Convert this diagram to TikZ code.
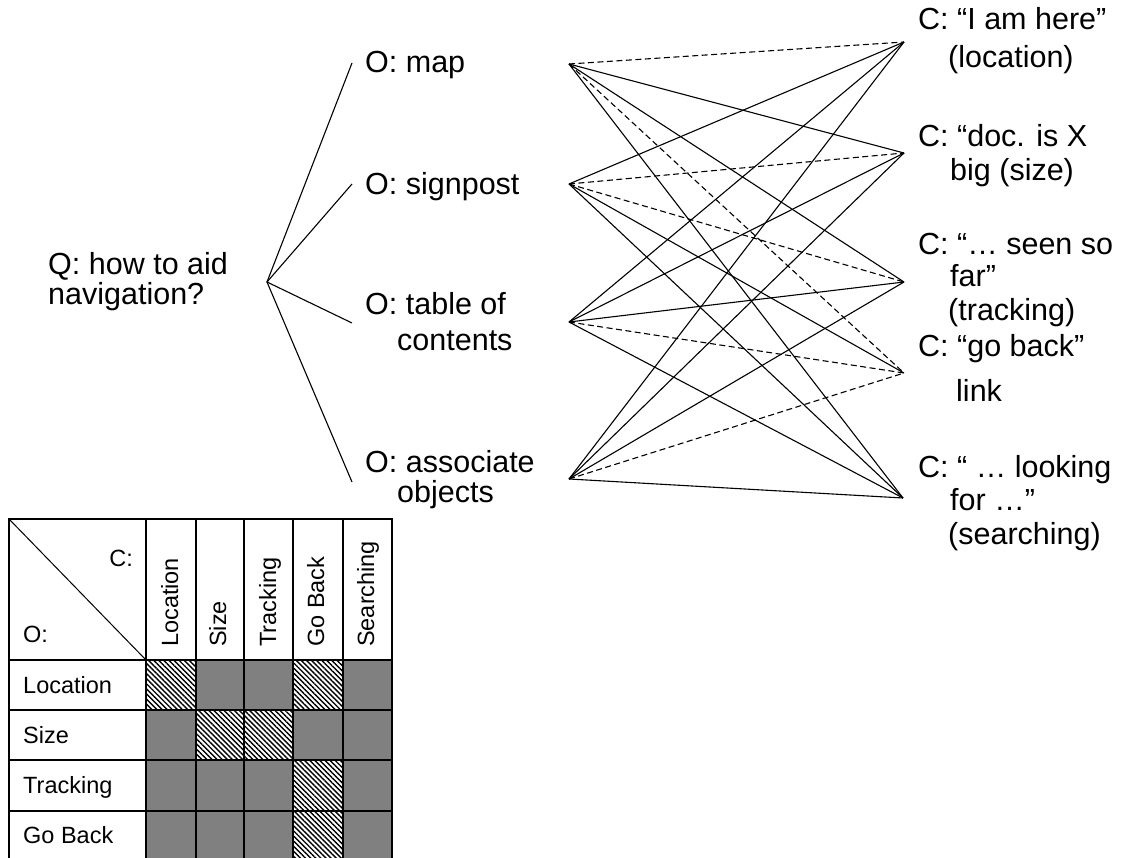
\documentclass[tikz,border=0pt]{standalone}
\usepackage{fontspec}
\setmainfont{Liberation Sans}
\usetikzlibrary{patterns.meta}
\begin{document}
\begin{tikzpicture}[x=1pt,y=-1pt,
  big/.style={font=\fontsize{30.5}{33}\selectfont, inner sep=0pt, anchor=base west},
  small/.style={font=\fontsize{23.5}{26}\selectfont, inner sep=0pt, anchor=base west},
  link/.style={line width=1.1pt, black},
  dlink/.style={line width=1.1pt, black, dash pattern=on 6pt off 3.5pt},
  hatchcell/.style={fill=white, postaction={pattern={Lines[angle=-45,distance=3.6pt,line width=1.4pt]}}},
  grid/.style={line width=1.3pt, black}]
\useasboundingbox (0,0) rectangle (1125,858);
\clip (0,0) rectangle (1125,858);

% ---- texts: question and options
\node[big] (q1) at (48,275) {Q: how to aid};
\node[big] (q2) at (48,305) {navigation?};
\node[big] (o1) at (365,73) {O: map};
\node[big] (o2) at (365,195) {O: signpost};
\node[big] (o3a) at (365,315) {O: table of};
\node[big] (o3b) at (397,351) {contents};
\node[big] (o4a) at (365,473) {O: associate};
\node[big] (o4b) at (397,502) {objects};

% ---- texts: criteria
\node[big] (c1a) at (918,30) {C: “I am here”};
\node[big] (c1b) at (948,68) {(location)};
\node[big] (c2a) at (918,147) {C: “doc. is X};
\node[big] (c2b) at (950,181) {big (size)};
\node[big] (c3a) at (918,255) {C: “… seen so};
\node[big] (c3b) at (950,287) {far”};
\node[big] (c3c) at (948,321) {(tracking)};
\node[big] (c4a) at (918,357) {C: “go back”};
\node[big] (c4b) at (956,402) {link};
\node[big] (c5a) at (918,478) {C: “ … looking};
\node[big] (c5b) at (950,511) {for …”};
\node[big] (c5c) at (948,544) {(searching)};

% ---- tree
\coordinate (V) at (267,282);
\coordinate (b1) at (352,63);
\coordinate (b2) at (352,184);
\coordinate (b3) at (352,323);
\coordinate (b4) at (352,482);
\draw[link] (b1) -- (V) -- (b4);
\draw[link] (b2) -- (V) -- (b3);

% ---- option / criterion points
\coordinate (p1) at (569,64);
\coordinate (p2) at (569,184);
\coordinate (p3) at (569,322);
\coordinate (p4) at (569,479);
\coordinate (k1) at (904,42);
\coordinate (k2) at (904,153);
\coordinate (k3) at (904,282);
\coordinate (k4) at (904,373);
\coordinate (k5) at (903,498);

% map
\draw[dlink] (p1) -- (k1);
\draw[link] (p1) -- (k2);
\draw[link] (p1) -- (k3);
\draw[dlink] (p1) -- (k4);
\draw[link] (p1) -- (k5);
% signpost
\draw[link] (p2) -- (k1);
\draw[dlink] (p2) -- (k2);
\draw[dlink] (p2) -- (k3);
\draw[link] (p2) -- (k4);
\draw[link] (p2) -- (k5);
% table of contents
\draw[link] (p3) -- (k1);
\draw[link] (p3) -- (k2);
\draw[link] (p3) -- (k3);
\draw[dlink] (p3) -- (k4);
\draw[link] (p3) -- (k5);
% associate objects
\draw[link] (p4) -- (k1);
\draw[link] (p4) -- (k2);
\draw[link] (p4) -- (k3);
\draw[dlink] (p4) -- (k4);
\draw[link] (p4) -- (k5);

% ---- table
\fill[black!50] (146,660) rectangle (392,861);
\path[hatchcell] (146,660) rectangle (196,710);
\path[hatchcell] (293,660) rectangle (343,710);
\path[hatchcell] (196,710) rectangle (244,760);
\path[hatchcell] (244,710) rectangle (293,760);
\path[hatchcell] (293,760) rectangle (343,811);
\path[hatchcell] (293,811) rectangle (343,861);
\draw[grid] (9,519) rectangle (392,861);
\foreach \xx in {146,196,244,293,343} \draw[grid] (\xx,519) -- (\xx,861);
\foreach \yy in {660,710,760,811} \draw[grid] (9,\yy) -- (392,\yy);
\draw[grid, line width=1pt] (9,519) -- (146,660);

\node[small, anchor=base east] (tc) at (133,566) {C:};
\node[small] (to) at (23,642) {O:};
\node[small, rotate=90] (h1) at (178,647) {Location};
\node[small, rotate=90] (h2) at (226,647) {Size};
\node[small, rotate=90] (h3) at (276,647) {Tracking};
\node[small, rotate=90] (h4) at (324,647) {Go Back};
\node[small, rotate=90] (h5) at (374,647) {Searching};
\node[small] (r1) at (23,693) {Location};
\node[small] (r2) at (23,743) {Size};
\node[small] (r3) at (23,793) {Tracking};
\node[small] (r4) at (23,843) {Go Back};
\end{tikzpicture}
\end{document}
